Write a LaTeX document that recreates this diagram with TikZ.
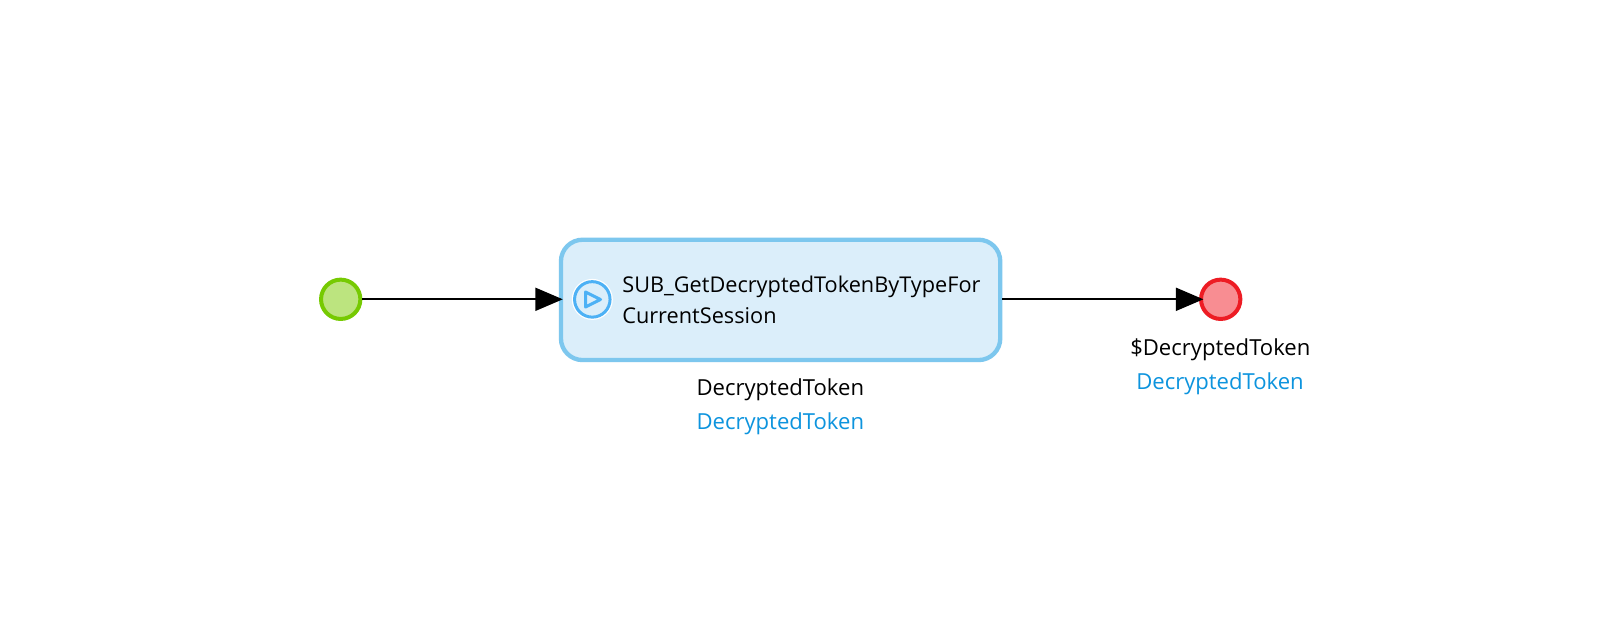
\documentclass[tikz,border=0pt]{standalone}
\usepackage{fontspec}
\setmainfont{Open Sans}
\usetikzlibrary{arrows.meta}
\definecolor{startfill}{HTML}{BCE47F}
\definecolor{startline}{HTML}{76CA02}
\definecolor{endfill}{HTML}{F88D92}
\definecolor{endline}{HTML}{ED1C24}
\definecolor{taskfill}{HTML}{DBEEFA}
\definecolor{taskline}{HTML}{7DC7EE}
\definecolor{iconline}{HTML}{4DB1F5}
\definecolor{outname}{HTML}{0D94DE}
\tikzset{
  event/.style={circle,inner sep=0pt,minimum size=23.6pt,line width=2.4pt},
  taskbox/.style={draw=taskline,fill=taskfill,rounded corners=13pt,line width=2.6pt,
    minimum width=263.6pt,minimum height=72.2pt,inner sep=0pt},
  flow/.style={-{Triangle[length=16.5pt,width=13.8pt]},line width=1.2pt},
  lbl/.style={font=\fontsize{13.25}{16}\selectfont,inner sep=0pt,anchor=base},
  ttl/.style={font=\fontsize{13.03}{16}\selectfont,inner sep=0pt,anchor=base west},
}
\begin{document}
\begin{tikzpicture}[x=0.6pt,y=-0.6pt]
\useasboundingbox (0,0) rectangle (1597,625);
\fill[white] (0,0) rectangle (1597,625);
% start, task, end
\node[event,draw=startline,fill=startfill] (start) at (340.7,299.3) {};
\node[taskbox] (task) at (780.6,299.9) {};
\node[event,draw=endline,fill=endfill] (stop) at (1220.7,299.3) {};
% flows
\draw[flow,shorten >=-2.4pt] (start) -- (start -| task.west);
\draw[flow,shorten >=-2.6pt] (stop -| task.east) -- (stop);
% icon
\node[circle,draw=white,line width=1.2pt,minimum size=23.4pt,inner sep=0pt] (halo) at (592.3,299.4) {};
\node[circle,draw=iconline,fill=taskfill,line width=1.8pt,minimum size=21.3pt,inner sep=0pt] (icon) at (592.3,299.4) {};
\draw[iconline,line width=1.8pt,line join=round] (585.5,292) -- (600.5,299.5) -- (585.5,307) -- cycle;
% texts
\node[ttl] (title1) at (622,292.7) {SUB\_GetDecryptedTokenByTypeFor};
\node[ttl] (title2) at (622,323.2) {CurrentSession};
\node[lbl] (taskvar) at (780.3,395.3) {DecryptedToken};
\node[lbl,text=outname] (tasktype) at (780.3,429.3) {DecryptedToken};
\node[lbl] (stopvar) at (1220.3,355.3) {\$DecryptedToken};
\node[lbl,text=outname] (stoptype) at (1220,389.3) {DecryptedToken};
\end{tikzpicture}
\end{document}
